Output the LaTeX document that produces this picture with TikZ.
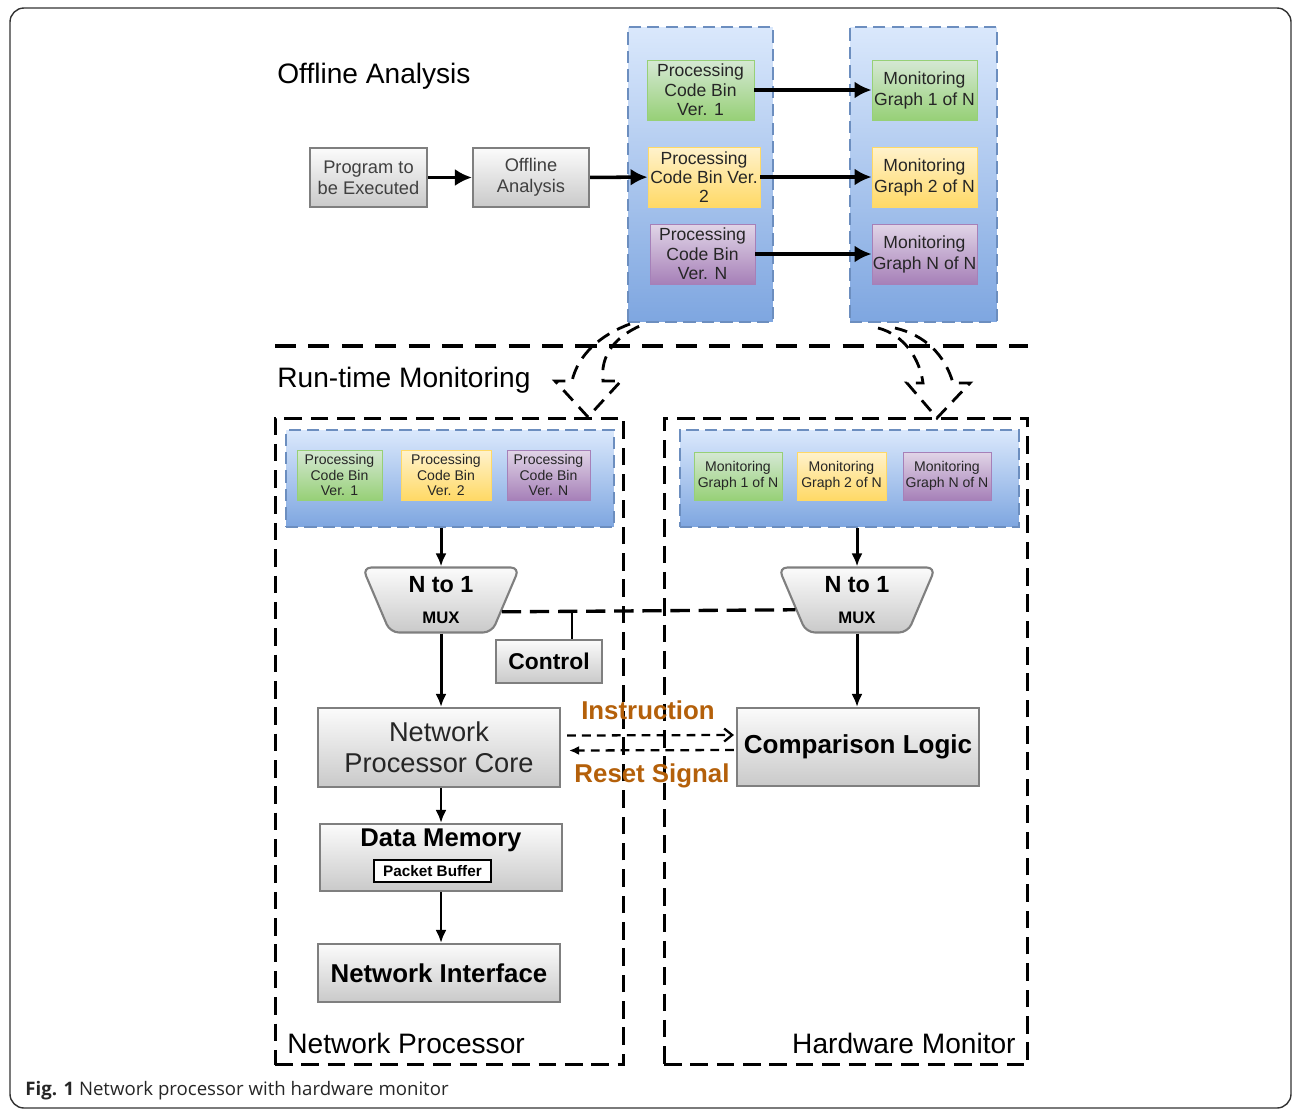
\documentclass[tikz,border=0pt]{standalone}
\usepackage{fontspec}
\setmainfont{Liberation Sans}
\newfontfamily\capfont{Open Sans}
\usetikzlibrary{arrows.meta,shapes.geometric,calc}

\definecolor{boxedge}{HTML}{7F7F7F}
\definecolor{blueedge}{HTML}{6C8EBF}
\definecolor{bluetop}{HTML}{DAE8FC}
\definecolor{bluebot}{HTML}{7EA6E0}
\definecolor{greentop}{HTML}{D5E8D4}
\definecolor{greenbot}{HTML}{97D077}
\definecolor{yellowtop}{HTML}{FFF2CC}
\definecolor{yellowbot}{HTML}{FFD966}
\definecolor{purpletop}{HTML}{E1D5E7}
\definecolor{purplebot}{HTML}{A680B8}
\definecolor{signal}{HTML}{B4600A}

\begin{document}
\begin{tikzpicture}[x=0.02cm,y=-0.02cm,
  graybox/.style={draw=boxedge,line width=1.2pt,top color=gray!3,bottom color=gray!42,inner sep=0pt,align=center},
  bin/.style={inner sep=0pt,align=center,line width=0.5pt,text=black!85},
  greenfill/.style={draw=greenbot,top color=greentop,bottom color=greenbot},
  yellowfill/.style={draw=yellowbot,top color=yellowtop,bottom color=yellowbot},
  purplefill/.style={draw=purplebot,top color=purpletop,bottom color=purplebot},
  container/.style={draw=blueedge,line width=1.3pt,dash pattern=on 7pt off 3.5pt,top color=bluetop,bottom color=bluebot,inner sep=0pt},
  region/.style={draw=black,line width=1.7pt,dash pattern=on 10pt off 5pt,inner sep=0pt},
  mux/.style={trapezium,trapezium left angle=60,trapezium right angle=60,shape border rotate=180,
    trapezium stretches body,minimum width=3.14cm,minimum height=1.3cm,graybox,rounded corners=5pt},
  sectitle/.style={anchor=west,inner sep=0pt,font=\fontsize{16}{18}\selectfont},
  siglabel/.style={text=signal,font=\bfseries\fontsize{14.7}{16}\selectfont},
  arrow/.style={line width=1.7pt,-{Latex[length=0.26cm,width=0.22cm]}},
  bigarrow/.style={line width=2pt,-{Latex[length=0.34cm,width=0.34cm]}},
  sigline/.style={line width=1.3pt,dash pattern=on 5pt off 3.5pt},
  hollow/.style={line width=1.6pt,dash pattern=on 8pt off 5pt}]

  \useasboundingbox (0,0) rectangle (1292,1109);

  % frame
  \draw[black!80,line width=0.8pt,rounded corners=8pt] (10,8) rectangle (1291,1108);

  % offline analysis
  \node[sectitle] (offtitle) at (277,76) {Offline Analysis};
  \node[graybox,minimum width=2.34cm,minimum height=1.18cm,text=black!75,font=\fontsize{10.4}{12}\selectfont] (prog) at (368.5,177.5) {Program to\\be Executed};
  \node[graybox,minimum width=2.32cm,minimum height=1.18cm,text=black!75,font=\fontsize{10.4}{12}\selectfont] (offl) at (531,177.5) {Offline\\Analysis};

  \node[container,minimum width=2.9cm,minimum height=5.9cm] (bincol) at (700.5,174.5) {};
  \node[container,minimum width=2.94cm,minimum height=5.9cm] (graphcol) at (923.5,174.5) {};

  \node[bin,greenfill,minimum width=2.14cm,minimum height=1.2cm,font=\fontsize{10}{11}\selectfont] (bin1) at (700.5,90) {Processing\\Code Bin\\Ver. 1};
  \node[bin,yellowfill,minimum width=2.24cm,minimum height=1.2cm,font=\fontsize{10}{11}\selectfont] (bin2) at (704,177) {Processing\\Code Bin Ver.\\2};
  \node[bin,purplefill,minimum width=2.1cm,minimum height=1.2cm,font=\fontsize{10}{11}\selectfont] (binN) at (702.5,254) {Processing\\Code Bin\\Ver. N};
  \node[bin,greenfill,minimum width=2.1cm,minimum height=1.2cm,font=\fontsize{10}{12}\selectfont] (graph1) at (924.5,90) {Monitoring\\Graph 1 of N};
  \node[bin,yellowfill,minimum width=2.1cm,minimum height=1.2cm,font=\fontsize{10}{12}\selectfont] (graph2) at (924.5,177) {Monitoring\\Graph 2 of N};
  \node[bin,purplefill,minimum width=2.1cm,minimum height=1.2cm,font=\fontsize{10}{12}\selectfont] (graphN) at (924.5,254) {Monitoring\\Graph N of N};

  \draw[bigarrow] (prog) -- (offl);
  \draw[bigarrow] (offl) -- (bin2);
  \draw[bigarrow] (bin1) -- (graph1);
  \draw[bigarrow] (bin2) -- (graph2);
  \draw[bigarrow] (binN) -- (graphN);

  % split between the two parts
  \draw[line width=2pt,dash pattern=on 12pt off 7pt] (275,346) -- (1028,346);

  % hollow download arrows
  \draw[hollow] (630,324) .. controls (600,335) and (578,355) .. (572,381) -- (555,381) -- (588,417)
    -- (621,381) -- (603,381) .. controls (600,355) and (615,335) .. (647,323);
  \draw[hollow] (878,328) .. controls (905,335) and (920,360) .. (923,383) -- (907,383) -- (937,418)
    -- (970,383) -- (953,383) .. controls (945,355) and (925,335) .. (895,328);

  % run-time monitoring
  \node[sectitle] (runtitle) at (277,380) {Run-time Monitoring};
  \node[region,minimum width=6.98cm,minimum height=12.94cm] (np) at (449.5,741.5) {};
  \node[region,minimum width=7.28cm,minimum height=12.94cm] (hm) at (846,741.5) {};
  \node[sectitle] (nplabel) at (287,1043) {Network Processor};
  \node[sectitle,anchor=east] (hmlabel) at (1016,1043) {Hardware Monitor};

  \node[container,minimum width=6.56cm,minimum height=1.94cm] (rbincol) at (450,478.5) {};
  \node[container,minimum width=6.78cm,minimum height=1.94cm] (rgraphcol) at (849.5,478.5) {};

  \node[bin,greenfill,minimum width=1.7cm,minimum height=1cm,font=\fontsize{8}{9}\selectfont] (rbin1) at (339.5,475) {Processing\\Code Bin\\Ver. 1};
  \node[bin,yellowfill,minimum width=1.8cm,minimum height=1cm,font=\fontsize{8}{9}\selectfont] (rbin2) at (446,475) {Processing\\Code Bin\\Ver. 2};
  \node[bin,purplefill,minimum width=1.66cm,minimum height=1cm,font=\fontsize{8}{9}\selectfont] (rbinN) at (548.5,475) {Processing\\Code Bin\\Ver. N};
  \node[bin,greenfill,minimum width=1.76cm,minimum height=0.96cm,font=\fontsize{8}{9.5}\selectfont] (rgraph1) at (738,476) {Monitoring\\Graph 1 of N};
  \node[bin,yellowfill,minimum width=1.78cm,minimum height=0.96cm,font=\fontsize{8}{9.5}\selectfont] (rgraph2) at (841.5,476) {Monitoring\\Graph 2 of N};
  \node[bin,purplefill,minimum width=1.76cm,minimum height=0.96cm,font=\fontsize{8}{9.5}\selectfont] (rgraphN) at (947,476) {Monitoring\\Graph N of N};

  \node[mux,font=\bfseries\fontsize{13.3}{18}\selectfont] (mux1) at (441,600) {N to 1\\{\fontsize{9.5}{18}\selectfont MUX}};
  \node[mux,font=\bfseries\fontsize{13.3}{18}\selectfont] (mux2) at (857,600) {N to 1\\{\fontsize{9.5}{18}\selectfont MUX}};
  \node[graybox,minimum width=2.12cm,minimum height=0.86cm,font=\bfseries\fontsize{13}{15}\selectfont] (ctrl) at (549,661.5) {Control};

  \node[graybox,minimum width=4.84cm,minimum height=1.58cm,text=black!85,font=\fontsize{15.5}{17.6}\selectfont] (core) at (439,747.5) {Network\\Processor Core};
  \node[graybox,minimum width=4.84cm,minimum height=1.56cm,font=\bfseries\fontsize{14.8}{16}\selectfont] (cmp) at (858,747) {Comparison Logic};
  \node[graybox,minimum width=4.84cm,minimum height=1.34cm] (dmem) at (441,857.5) {};
  \node[font=\bfseries\fontsize{14.6}{16}\selectfont] (dmemlbl) at (441,840) {Data Memory};
  \node[draw=black,fill=white,line width=1.2pt,minimum width=2.34cm,minimum height=0.44cm,inner sep=0pt,font=\bfseries\fontsize{8.7}{10}\selectfont] (pbuf) at (432.5,871) {Packet Buffer};
  \node[graybox,minimum width=4.84cm,minimum height=1.16cm,font=\bfseries\fontsize{14.7}{16}\selectfont] (nif) at (439,973) {Network Interface};

  \draw[arrow] (rbincol.south -| mux1.north) -- (mux1.north);
  \draw[arrow] (rgraphcol.south -| mux2.north) -- (mux2.north);
  \draw[arrow] (mux1.south) -- (core.north -| mux1.south);
  \draw[arrow] (mux2.south) -- (cmp.north -| mux2.south);
  \draw[arrow] (core.south -| dmem.north) -- (dmem.north);
  \draw[arrow] (dmem.south) -- (nif.north -| dmem.south);

  % control line
  \draw[line width=1.9pt,dash pattern=on 11pt off 5pt] (mux1.-11) -- (mux2.-171) coordinate[pos=0.24] (cj);
  \draw[line width=1.3pt] (cj) -- (cj |- ctrl.north);

  % signals between core and comparison logic
  \draw[sigline,-{Straight Barb[length=0.16cm,width=0.26cm]}] ($(core.east)+(6,-12)$) -- ($(cmp.west)+(-2,-12)$);
  \draw[sigline,-{Latex[length=0.2cm,width=0.18cm]}] ($(cmp.west)+(-2,3)$) -- ($(core.east)+(8,3)$);
  \node[siglabel] (instr) at (648,710) {Instruction};
  \node[siglabel] (reset) at (652,776) {Reset Signal};

  % caption
  \node[anchor=west,inner sep=0pt,text=black!85,font=\capfont\fontsize{10.6}{13}\selectfont] (caption) at (25,1091) {\textbf{Fig. 1} Network processor with hardware monitor};
\end{tikzpicture}
\end{document}
